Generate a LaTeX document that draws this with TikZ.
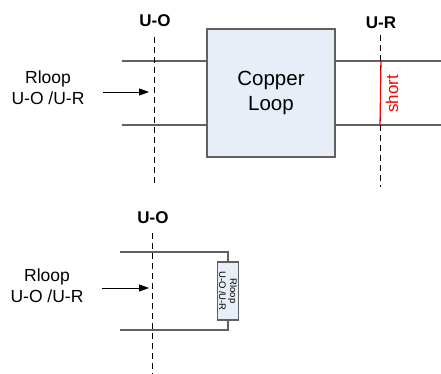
\documentclass[tikz,border=0pt]{standalone}
\usepackage{fontspec}
\setmainfont{Liberation Sans}
\usetikzlibrary{arrows.meta}
\definecolor{boxfill}{HTML}{E8EEF8}
\definecolor{linegray}{HTML}{606060}
\begin{document}
\begin{tikzpicture}[x=1pt,y=1pt,
  wire/.style={draw=linegray,line width=1.1pt},
  refline/.style={draw=black,line width=0.8pt,dash pattern=on 6pt off 4pt},
  lbl/.style={font=\fontsize{17}{20}\selectfont\bfseries,inner sep=0pt},
  rlbl/.style={font=\fontsize{17.5}{21}\selectfont,align=center,inner sep=0pt},
  arr/.style={draw=black,line width=0.8pt,-{Triangle[length=10pt,width=7pt]}},
  boxstyle/.style={draw=linegray,fill=boxfill,line width=1.1pt,inner sep=0pt}]
\useasboundingbox (0,0) rectangle (441,-374);
% ---- top ----
\node[lbl] (uo1) at (155,-21) {U-O};
\node[lbl] (ur1) at (381,-23) {U-R};
\node[boxstyle,minimum width=128pt,minimum height=128pt,font=\fontsize{20.5}{25}\selectfont,align=center] (loop) at (271,-93) {Copper\\Loop};
\coordinate (a1) at (122,-61);
\coordinate (a2) at (122,-125);
\coordinate (b1) at (441,-61);
\coordinate (b2) at (441,-125);
\draw[wire] (a1) -- (loop.west |- a1);
\draw[wire] (a2) -- (loop.west |- a2);
\draw[wire] (loop.east |- b1) -- (b1);
\draw[wire] (loop.east |- b2) -- (b2);
\coordinate (d1t) at (154,-37);
\coordinate (d1b) at (154,-183);
\draw[refline] (d1t) -- (d1b);
\coordinate (d2t) at (380,-35);
\coordinate (d2b) at (380,-187);
\draw[refline] (d2t) -- (d2b);
\coordinate (s1) at (381,-61);
\coordinate (s2) at (380,-125);
\draw[red,line width=1.2pt] (s1) -- (s2);
\node[red,rotate=90,font=\fontsize{17}{20}\selectfont,inner sep=0pt] (short) at (392,-94) {short};
\node[rlbl] (rl1) at (48,-88) {Rloop\\U-O /U-R};
\coordinate (ar1s) at (103,-92);
\coordinate (ar1e) at (149,-92);
\draw[arr] (ar1s) -- (ar1e);
% ---- bottom ----
\node[lbl] (uo2) at (153,-218) {U-O};
\coordinate (d3t) at (152.5,-233);
\coordinate (d3b) at (152.5,-374);
\draw[refline] (d3t) -- (d3b);
\node[boxstyle,minimum width=21pt,minimum height=58pt] (res) at (228,-291) {};
\node[rotate=-90,font=\fontsize{9.5}{11}\selectfont,align=center,inner sep=0pt] (restext) at (res.center) {Rloop\\U-O /U-R};
\coordinate (c1) at (120,-252);
\coordinate (c2) at (120,-330);
\draw[wire] (c1) -- (res.north |- c1) -- (res.north);
\draw[wire] (c2) -- (res.south |- c2) -- (res.south);
\node[rlbl] (rl2) at (47,-286) {Rloop\\U-O /U-R};
\coordinate (ar2s) at (102,-288);
\coordinate (ar2e) at (149,-288);
\draw[arr] (ar2s) -- (ar2e);
\end{tikzpicture}
\end{document}
